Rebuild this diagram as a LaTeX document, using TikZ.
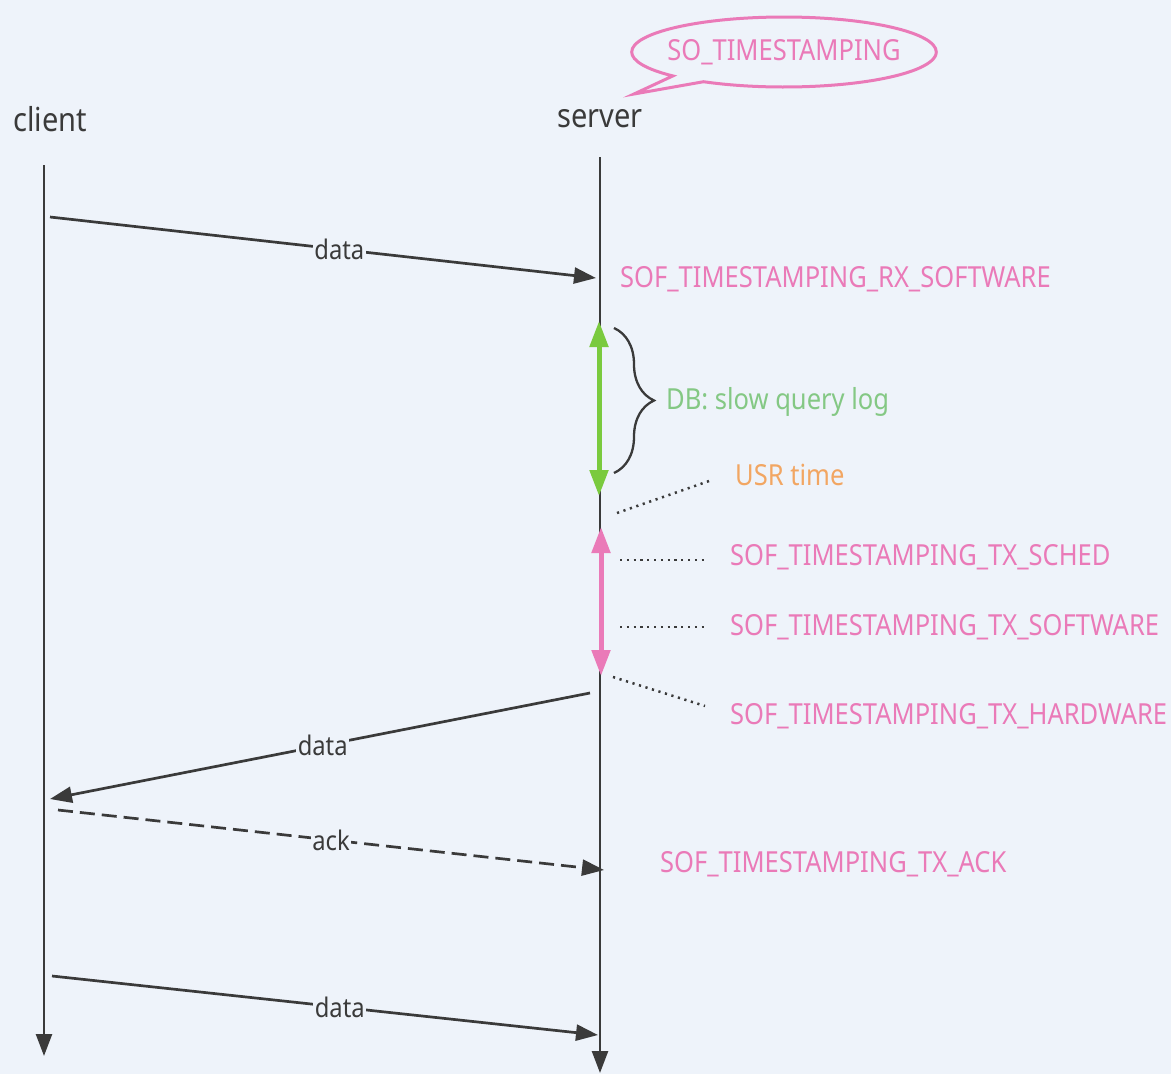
\documentclass[tikz,border=0pt]{standalone}
\usepackage{fontspec}
\setmainfont{Noto Sans}[FakeStretch=0.88]
\usetikzlibrary{arrows.meta,shapes.callouts,decorations.pathreplacing}
\definecolor{bgcol}{RGB}{238,243,250}
\definecolor{linecol}{RGB}{58,58,58}
\definecolor{pinkcol}{RGB}{234,122,184}
\definecolor{greencol}{RGB}{122,202,62}
\definecolor{greentxt}{RGB}{132,200,132}
\definecolor{orangecol}{RGB}{242,166,98}
\tikzset{
  life/.style={line width=2.5pt, draw=linecol, -{Triangle[length=22pt,width=16pt]}},
  msg/.style={line width=2.7pt, draw=linecol, -{Triangle[length=22pt,width=16pt]}},
  lbl/.style={fill=bgcol, inner sep=1.5pt, text=linecol, font=\fontsize{27}{29}\selectfont},
  head/.style={text=linecol, font=\fontsize{33}{35}\selectfont, inner sep=0pt},
  ts/.style={anchor=west, text=pinkcol, font=\fontsize{29}{31}\selectfont, inner sep=0pt},
  dots/.style={line width=2.5pt, draw=linecol, dash pattern=on 2.2pt off 4.6pt},
  span/.style={line width=5pt, {Triangle[length=26pt,width=18pt]}-{Triangle[length=26pt,width=18pt]}},
}
\begin{document}
\begin{tikzpicture}[x=1pt,y=-1pt]
  \fill[bgcol] (0,0) rectangle (1171,1074);
  \useasboundingbox (0,0) rectangle (1171,1074);

  % KOPF
  \node[head] (client) at (50,119) {client};
  \node[head] (server) at (600,119) {server};
  \node[ellipse callout, draw=pinkcol, line width=3pt, inner xsep=-9pt, inner ysep=12pt,
        outer sep=0pt, callout absolute pointer={(634,94)},
        text=pinkcol, font=\fontsize{29}{31}\selectfont] (sockopt) at (784,52) {SO\_TIMESTAMPING};

  % LEBENSLINIEN
  \coordinate (ctop) at (44,165);
  \coordinate (cbot) at (44,1056);
  \coordinate (stop) at (600,157);
  \coordinate (sbot) at (600,1073);
  \draw[life] (ctop) -- (cbot);
  \draw[life] (stop) -- (sbot);

  % NACHRICHTEN
  \coordinate (m1a) at (50,217);   \coordinate (m1b) at (596,278);
  \coordinate (m2a) at (590,693);  \coordinate (m2b) at (50,799);
  \coordinate (m3a) at (58,810);   \coordinate (m3b) at (604,870);
  \coordinate (m4a) at (52,976);   \coordinate (m4b) at (598,1035);
  \draw[msg] (m1a) -- node[lbl, pos=0.53] (d1) {data} (m1b);
  \draw[msg] (m2a) -- node[lbl, pos=0.495] (d2) {data} (m2b);
  \draw[msg, dash pattern=on 15pt off 7pt] (m3a) -- node[lbl, pos=0.5] (ack) {ack} (m3b);
  \draw[msg] (m4a) -- node[lbl, pos=0.527] (d3) {data} (m4b);

  % ZEITSTEMPEL
  \node[ts] (rx) at (620,279) {SOF\_TIMESTAMPING\_RX\_SOFTWARE};
  \coordinate (g1) at (599,321);
  \coordinate (g2) at (599,496);
  \draw[span, greencol] (g1) -- (g2);
  \draw[line width=2.3pt, linecol, decorate, decoration={brace, amplitude=40pt}] (614,328) -- (614,473);
  \node[ts, text=greentxt] (db) at (666,402) {DB: slow query log};

  \node[ts, text=orangecol] (usr) at (735,475) {USR time};
  \coordinate (u1) at (617,513);   \coordinate (u2) at (712,480);
  \draw[dots] (u1) -- (u2);

  \coordinate (p1) at (601,527);
  \coordinate (p2) at (601,676);
  \draw[span, pinkcol] (p1) -- (p2);

  \node[ts] (sched) at (730,557) {SOF\_TIMESTAMPING\_TX\_SCHED};
  \node[ts] (txsw) at (730,627) {SOF\_TIMESTAMPING\_TX\_SOFTWARE};
  \node[ts] (txhw) at (730,716) {SOF\_TIMESTAMPING\_TX\_HARDWARE};
  \node[ts] (txack) at (660,864) {SOF\_TIMESTAMPING\_TX\_ACK};
  \coordinate (s1) at (620,560);   \coordinate (s2) at (708,560);
  \coordinate (w1) at (620,627);   \coordinate (w2) at (708,627);
  \coordinate (h1) at (613,677);   \coordinate (h2) at (705,706);
  \draw[dots] (s1) -- (s2);
  \draw[dots] (w1) -- (w2);
  \draw[dots] (h1) -- (h2);
\end{tikzpicture}
\end{document}
